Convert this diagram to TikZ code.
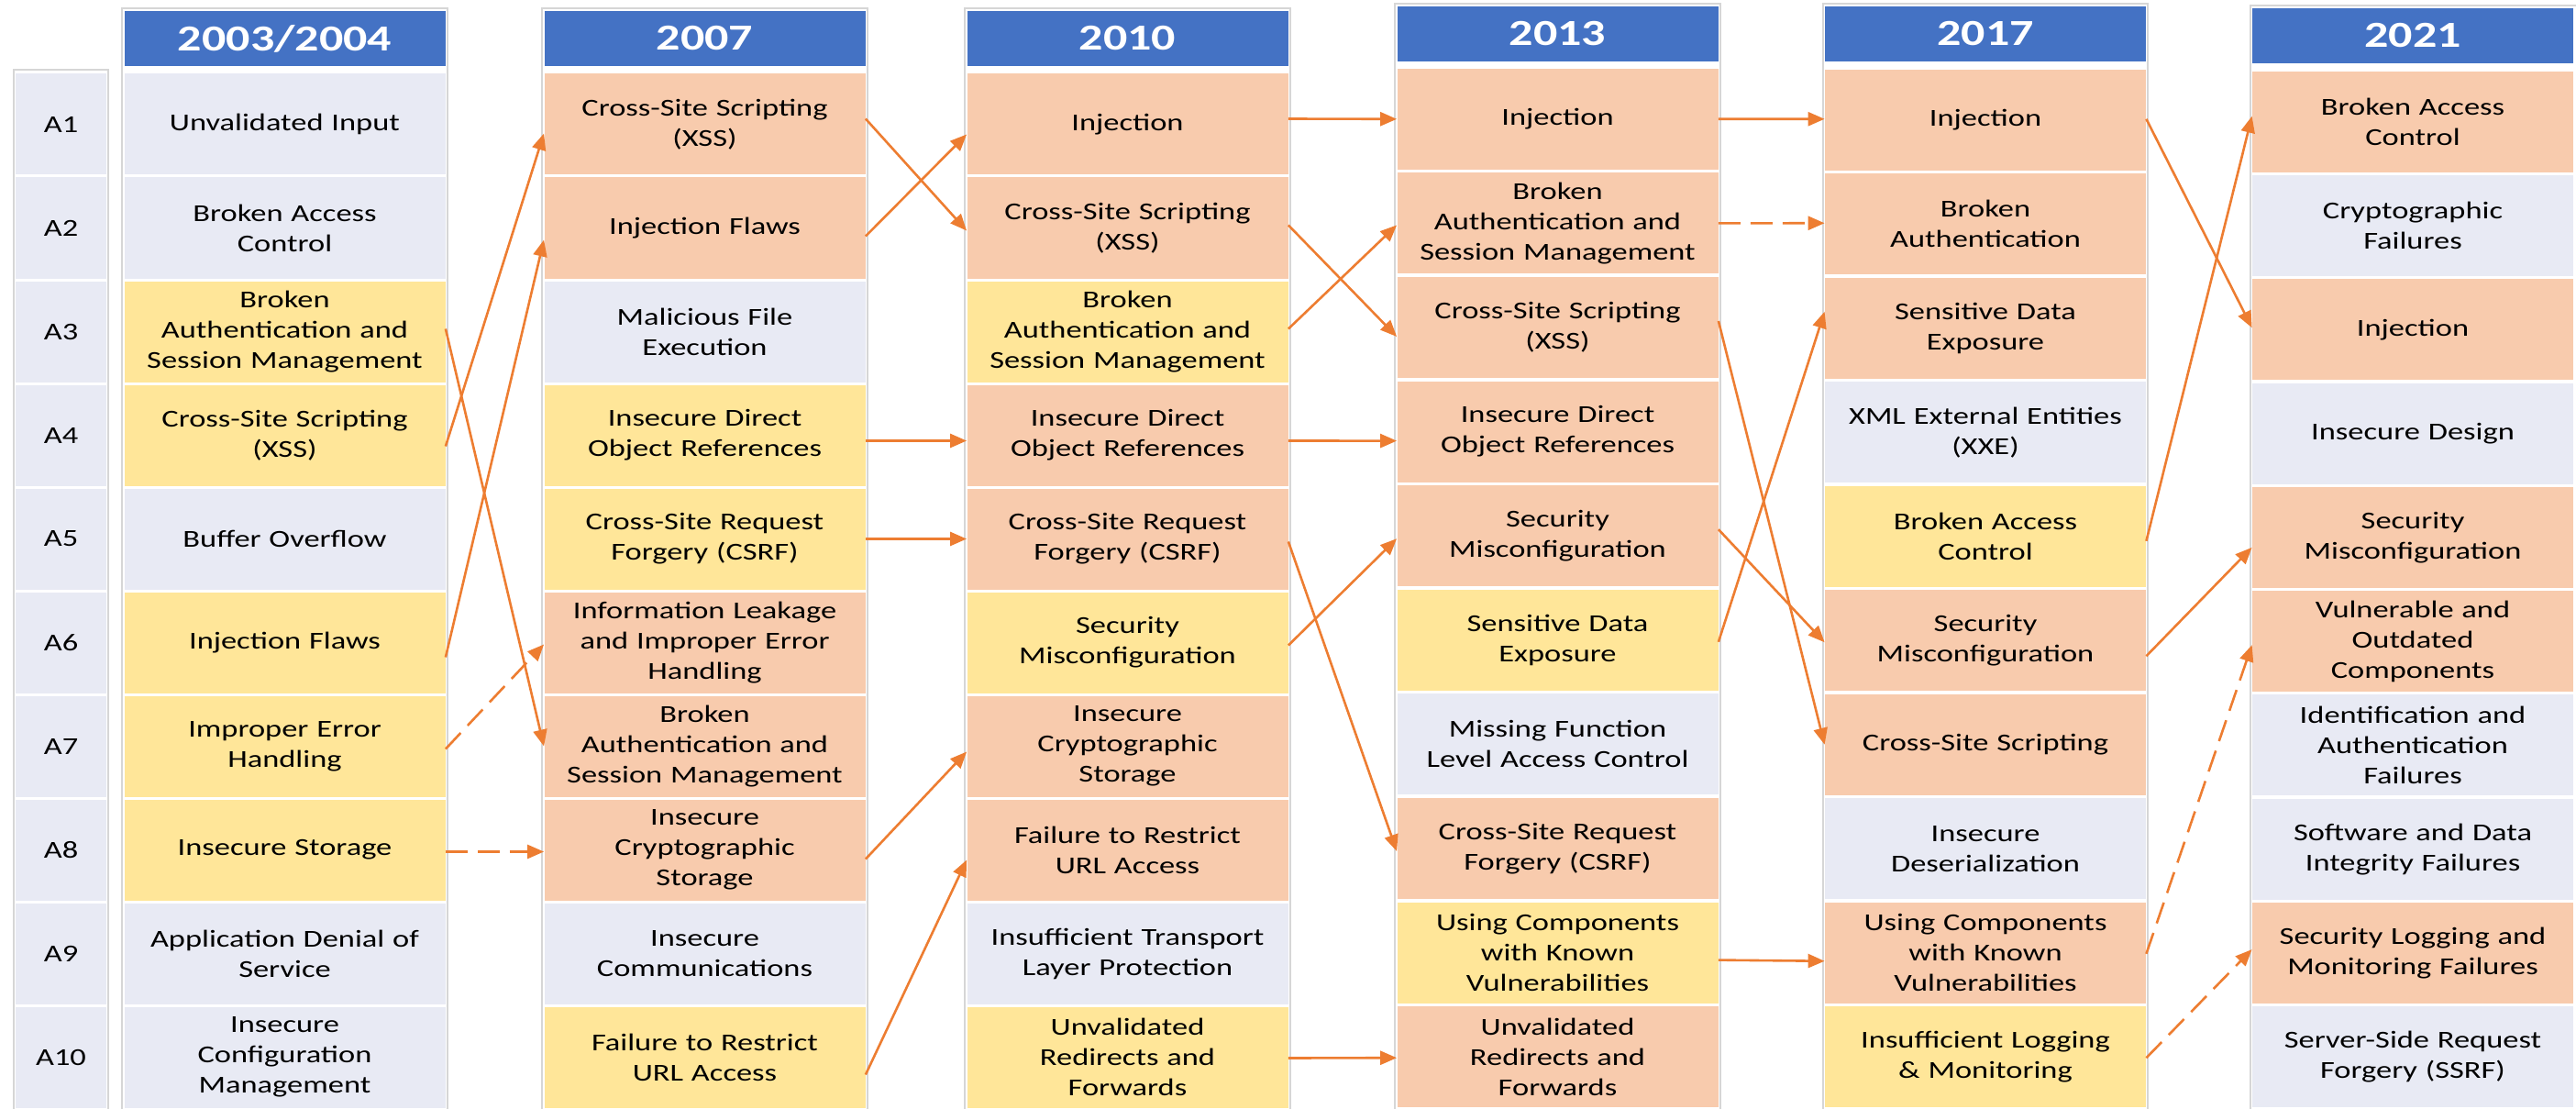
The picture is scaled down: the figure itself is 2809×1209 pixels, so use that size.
\documentclass[tikz,border=0pt]{standalone}
\usepackage{fontspec}
\setmainfont{Carlito}[FakeStretch=1.3]
\usetikzlibrary{arrows.meta,calc}
\definecolor{hdrblue}{HTML}{4472C4}
\definecolor{cgray}{HTML}{E8EAF4}
\definecolor{cyel}{HTML}{FFE699}
\definecolor{csal}{HTML}{F8CBAD}
\definecolor{arr}{HTML}{ED7D31}
\definecolor{frm}{HTML}{D6D6D6}
\tikzset{
 cellbox/.style={rectangle, inner sep=0pt, minimum width=175pt, minimum height=55pt, text width=172pt, align=center, font=\fontsize{13.25}{16.5}\selectfont},
 gc/.style={cellbox, fill=cgray},
 yc/.style={cellbox, fill=cyel},
 sc/.style={cellbox, fill=csal},
 hdr/.style={rectangle, fill=hdrblue, text=white, inner sep=0pt, minimum width=175pt, minimum height=30pt, font=\fontsize{20}{24}\selectfont\bfseries},
 lab/.style={rectangle, fill=cgray, inner sep=0pt, minimum width=49.5pt, minimum height=55pt, font=\fontsize{13.25}{16.5}\selectfont},
 conn/.style={draw=arr, line width=1.3pt, -{Triangle[length=9pt,width=7.5pt]}},
 dconn/.style={conn, dash pattern=on 12pt off 5.5pt},
 colframe/.style={draw=frm, line width=0.7pt}
}
\newcommand\mkcell[6]{\node[#5] (#1) at ({#2},{#3+(#4-0.5)*(1209-#3)/10}) {#6};}
\begin{document}
\begin{tikzpicture}[x=0.5pt,y=-0.5pt]
\useasboundingbox (0,0) rectangle (2809,1209);
% frames
\draw[colframe] (15,76) rectangle (118,1215);
\draw[colframe] (133,9) rectangle (488,1215);
\draw[colframe] (591,9) rectangle (946,1215);
\draw[colframe] (1052,9) rectangle (1407,1215);
\draw[colframe] (1521,4) rectangle (1876,1215);
\draw[colframe] (1988,4) rectangle (2342,1215);
\draw[colframe] (2454,6) rectangle (2812,1215);
% headers
\node[hdr] (h1) at (310.5,42) {2003/2004};
\node[hdr] (h2) at (768.5,42) {2007};
\node[hdr] (h3) at (1229.5,42) {2010};
\node[hdr] (h4) at (1698.5,37) {2013};
\node[hdr] (h5) at (2165,37) {2017};
\node[hdr] (h6) at (2631,39) {2021};
% labels
\mkcell{l1}{66.5}{79}{1}{lab}{A1}
\mkcell{l2}{66.5}{79}{2}{lab}{A2}
\mkcell{l3}{66.5}{79}{3}{lab}{A3}
\mkcell{l4}{66.5}{79}{4}{lab}{A4}
\mkcell{l5}{66.5}{79}{5}{lab}{A5}
\mkcell{l6}{66.5}{79}{6}{lab}{A6}
\mkcell{l7}{66.5}{79}{7}{lab}{A7}
\mkcell{l8}{66.5}{79}{8}{lab}{A8}
\mkcell{l9}{66.5}{79}{9}{lab}{A9}
\mkcell{l10}{66.5}{79}{10}{lab}{A10}
% 2003/2004
\mkcell{c1r1}{310.5}{79}{1}{gc}{Unvalidated Input}
\mkcell{c1r2}{310.5}{79}{2}{gc}{Broken Access\\Control}
\mkcell{c1r3}{310.5}{79}{3}{yc}{Broken\\Authentication and\\Session Management}
\mkcell{c1r4}{310.5}{79}{4}{yc}{Cross-Site Scripting\\(XSS)}
\mkcell{c1r5}{310.5}{79}{5}{gc}{Buffer Overflow}
\mkcell{c1r6}{310.5}{79}{6}{yc}{Injection Flaws}
\mkcell{c1r7}{310.5}{79}{7}{yc}{Improper Error\\Handling}
\mkcell{c1r8}{310.5}{79}{8}{yc}{Insecure Storage}
\mkcell{c1r9}{310.5}{79}{9}{gc}{Application Denial of\\Service}
\mkcell{c1r10}{310.5}{79}{10}{gc}{Insecure\\Configuration\\Management}
% 2007
\mkcell{c2r1}{768.5}{79}{1}{sc}{Cross-Site Scripting\\(XSS)}
\mkcell{c2r2}{768.5}{79}{2}{sc}{Injection Flaws}
\mkcell{c2r3}{768.5}{79}{3}{gc}{Malicious File\\Execution}
\mkcell{c2r4}{768.5}{79}{4}{yc}{Insecure Direct\\Object References}
\mkcell{c2r5}{768.5}{79}{5}{yc}{Cross-Site Request\\Forgery (CSRF)}
\mkcell{c2r6}{768.5}{79}{6}{sc}{Information Leakage\\and Improper Error\\Handling}
\mkcell{c2r7}{768.5}{79}{7}{sc}{Broken\\Authentication and\\Session Management}
\mkcell{c2r8}{768.5}{79}{8}{sc}{Insecure\\Cryptographic\\Storage}
\mkcell{c2r9}{768.5}{79}{9}{gc}{Insecure\\Communications}
\mkcell{c2r10}{768.5}{79}{10}{yc}{Failure to Restrict\\URL Access}
% 2010
\mkcell{c3r1}{1229.5}{79}{1}{sc}{Injection}
\mkcell{c3r2}{1229.5}{79}{2}{sc}{Cross-Site Scripting\\(XSS)}
\mkcell{c3r3}{1229.5}{79}{3}{yc}{Broken\\Authentication and\\Session Management}
\mkcell{c3r4}{1229.5}{79}{4}{sc}{Insecure Direct\\Object References}
\mkcell{c3r5}{1229.5}{79}{5}{sc}{Cross-Site Request\\Forgery (CSRF)}
\mkcell{c3r6}{1229.5}{79}{6}{yc}{Security\\Misconfiguration}
\mkcell{c3r7}{1229.5}{79}{7}{sc}{Insecure\\Cryptographic\\Storage}
\mkcell{c3r8}{1229.5}{79}{8}{sc}{Failure to Restrict\\URL Access}
\mkcell{c3r9}{1229.5}{79}{9}{gc}{Insufficient Transport\\Layer Protection}
\mkcell{c3r10}{1229.5}{79}{10}{yc}{Unvalidated\\Redirects and\\Forwards}
% 2013
\mkcell{c4r1}{1698.5}{73}{1}{sc}{Injection}
\mkcell{c4r2}{1698.5}{73}{2}{sc}{Broken\\Authentication and\\Session Management}
\mkcell{c4r3}{1698.5}{73}{3}{sc}{Cross-Site Scripting\\(XSS)}
\mkcell{c4r4}{1698.5}{73}{4}{sc}{Insecure Direct\\Object References}
\mkcell{c4r5}{1698.5}{73}{5}{sc}{Security\\Misconfiguration}
\mkcell{c4r6}{1698.5}{73}{6}{yc}{Sensitive Data\\Exposure}
\mkcell{c4r7}{1698.5}{73}{7}{gc}{Missing Function\\Level Access Control}
\mkcell{c4r8}{1698.5}{73}{8}{sc}{Cross-Site Request\\Forgery (CSRF)}
\mkcell{c4r9}{1698.5}{73}{9}{yc}{Using Components\\with Known\\Vulnerabilities}
\mkcell{c4r10}{1698.5}{73}{10}{sc}{Unvalidated\\Redirects and\\Forwards}
% 2017
\mkcell{c5r1}{2165}{74}{1}{sc}{Injection}
\mkcell{c5r2}{2165}{74}{2}{sc}{Broken\\Authentication}
\mkcell{c5r3}{2165}{74}{3}{sc}{Sensitive Data\\Exposure}
\mkcell{c5r4}{2165}{74}{4}{gc}{XML External Entities\\(XXE)}
\mkcell{c5r5}{2165}{74}{5}{yc}{Broken Access\\Control}
\mkcell{c5r6}{2165}{74}{6}{sc}{Security\\Misconfiguration}
\mkcell{c5r7}{2165}{74}{7}{sc}{Cross-Site Scripting}
\mkcell{c5r8}{2165}{74}{8}{gc}{Insecure\\Deserialization}
\mkcell{c5r9}{2165}{74}{9}{sc}{Using Components\\with Known\\Vulnerabilities}
\mkcell{c5r10}{2165}{74}{10}{yc}{Insufficient Logging\\\& Monitoring}
% 2021
\mkcell{c6r1}{2631}{76}{1}{sc}{Broken Access\\Control}
\mkcell{c6r2}{2631}{76}{2}{gc}{Cryptographic\\Failures}
\mkcell{c6r3}{2631}{76}{3}{sc}{Injection}
\mkcell{c6r4}{2631}{76}{4}{gc}{Insecure Design}
\mkcell{c6r5}{2631}{76}{5}{sc}{Security\\Misconfiguration}
\mkcell{c6r6}{2631}{76}{6}{sc}{Vulnerable and\\Outdated\\Components}
\mkcell{c6r7}{2631}{76}{7}{gc}{Identification and\\Authentication\\Failures}
\mkcell{c6r8}{2631}{76}{8}{gc}{Software and Data\\Integrity Failures}
\mkcell{c6r9}{2631}{76}{9}{sc}{Security Logging and\\Monitoring Failures}
\mkcell{c6r10}{2631}{76}{10}{gc}{Server-Side Request\\Forgery (SSRF)}
% connectors 2003/2004 -> 2007
\draw[conn] ($(c1r4.east)+(0,12)$) -- ($(c2r1.west)+(0,10)$);
\draw[conn] ($(c1r6.east)+(0,16)$) -- ($(c2r2.west)+(0,13)$);
\draw[conn] ($(c1r3.east)+(0,-3)$) -- ($(c2r7.west)+(0,0)$);
\draw[dconn] ($(c1r7.east)+(0,3)$) -- ($(c2r6.west)+(0,2)$);
\draw[dconn] ($(c1r8.east)+(0,2)$) -- ($(c2r8.west)+(0,2)$);
% 2007 -> 2010
\draw[conn] ($(c2r1.east)+(0,-6)$) -- ($(c3r2.west)+(0,3)$);
\draw[conn] ($(c2r2.east)+(0,9)$) -- ($(c3r1.west)+(0,11)$);
\draw[conn] ($(c2r4.east)+(0,6)$) -- ($(c3r4.west)+(0,6)$);
\draw[conn] ($(c2r5.east)+(0,0)$) -- ($(c3r5.west)+(0,0)$);
\draw[conn] ($(c2r8.east)+(0,10)$) -- ($(c3r7.west)+(0,6)$);
\draw[conn] ($(c2r10.east)+(0,19)$) -- ($(c3r8.west)+(0,11)$);
% 2010 -> 2013
\draw[conn] ($(c3r1.east)+(0,-6)$) -- ($(c4r1.west)+(0,0)$);
\draw[conn] ($(c3r2.east)+(0,-3)$) -- ($(c4r3.west)+(0,10)$);
\draw[conn] ($(c3r3.east)+(0,-3)$) -- ($(c4r2.west)+(0,2)$);
\draw[conn] ($(c3r4.east)+(0,6)$) -- ($(c4r4.west)+(0,10)$);
\draw[conn] ($(c3r5.east)+(0,3)$) -- ($(c4r8.west)+(0,3)$);
\draw[conn] ($(c3r6.east)+(0,3)$) -- ($(c4r5.west)+(0,3)$);
\draw[conn] ($(c3r10.east)+(0,1)$) -- ($(c4r10.west)+(0,1)$);
% 2013 -> 2017
\draw[conn] ($(c4r1.east)+(0,0)$) -- ($(c5r1.west)+(0,-1)$);
\draw[dconn] ($(c4r2.east)+(0,0)$) -- ($(c5r2.west)+(0,-1)$);
\draw[conn] ($(c4r3.east)+(0,-7)$) -- ($(c5r7.west)+(0,0)$);
\draw[conn] ($(c4r6.east)+(0,2)$) -- ($(c5r3.west)+(0,-18)$);
\draw[conn] ($(c4r5.east)+(0,-7)$) -- ($(c5r6.west)+(0,2)$);
\draw[conn] ($(c4r9.east)+(0,8)$) -- ($(c5r9.west)+(0,9)$);
% 2017 -> 2021
\draw[conn] ($(c5r1.east)+(0,-1)$) -- ($(c6r3.west)+(0,-2)$);
\draw[conn] ($(c5r5.east)+(0,5)$) -- ($(c6r1.west)+(0,-6)$);
\draw[conn] ($(c5r6.east)+(0,17)$) -- ($(c6r5.west)+(0,11)$);
\draw[dconn] ($(c5r9.east)+(0,1)$) -- ($(c6r6.west)+(0,4)$);
\draw[dconn] ($(c5r10.east)+(0,1)$) -- ($(c6r9.west)+(0,-4)$);
\end{tikzpicture}
\end{document}
